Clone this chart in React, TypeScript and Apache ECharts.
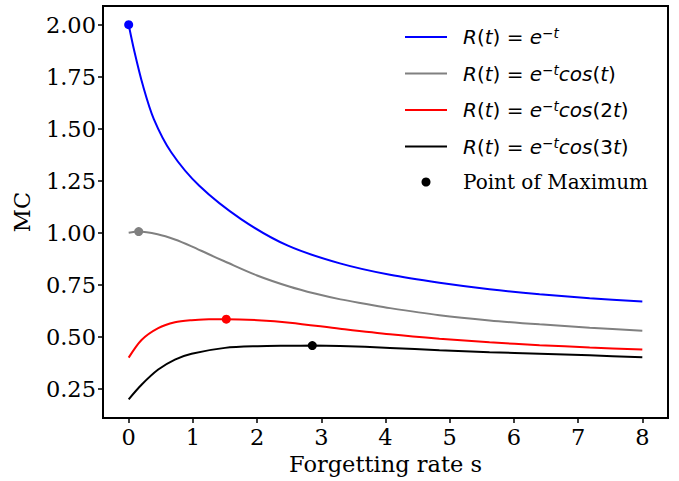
import React, { useEffect, useRef } from "react";
import * as echarts from "echarts";

// Forgetting rate s (x) and MC (y)
const sExp = [0, 0.09, 0.22, 0.39, 0.665, 1.1, 1.75, 2.48, 3.29, 4.07, 4.84, 5.62, 6.4, 7.18, 8];
const mcExp = [2.0, 1.87, 1.71, 1.548, 1.386, 1.226, 1.066, 0.938, 0.853, 0.798, 0.76, 0.729, 0.705, 0.686, 0.67];

const sCos1 = [0, 0.156, 0.45, 0.72, 0.98, 1.24, 1.5, 2.0, 2.5, 2.9, 3.3, 3.7, 4.07, 4.84, 5.62, 6.4, 7.18, 8];
const mcCos1 = [1.0, 1.006, 0.993, 0.968, 0.935, 0.898, 0.862, 0.795, 0.742, 0.708, 0.68, 0.658, 0.638, 0.604, 0.579, 0.56, 0.544, 0.529];

const sCos2 = [0, 0.2, 0.46, 0.72, 0.98, 1.25, 1.52, 2.01, 2.51, 3.29, 4.07, 4.84, 5.62, 6.4, 7.18, 8];
const mcCos2 = [0.4, 0.485, 0.542, 0.57, 0.58, 0.584, 0.585, 0.58, 0.568, 0.539, 0.512, 0.491, 0.474, 0.46, 0.449, 0.439];

const sCos3 = [0, 0.2, 0.46, 0.72, 0.98, 1.5, 2.01, 2.5, 2.86, 3.29, 4.07, 4.84, 5.62, 6.4, 7.18, 8];
const mcCos3 = [0.2, 0.27, 0.343, 0.391, 0.419, 0.447, 0.455, 0.457, 0.458, 0.456, 0.447, 0.436, 0.426, 0.419, 0.411, 0.402];

// Points of maximum
const maxS = [0, 0.156, 1.52, 2.86];
const maxMC = [2.0, 1.006, 0.585, 0.458];
const maxColors = ["#0000ff", "#808080", "#ff0000", "#000000"];

const seriesNames = ["exp", "cos1", "cos2", "cos3"];
const seriesColors = ["#0000ff", "#808080", "#ff0000", "#000000"];
const legendLabels = [
  "{i|R}{u|(}{i|t}{u|) = }{i|e}{su|−}{si|t}",
  "{i|R}{u|(}{i|t}{u|) = }{i|e}{su|−}{si|t}{i|cos}{u|(}{i|t}{u|)}",
  "{i|R}{u|(}{i|t}{u|) = }{i|e}{su|−}{si|t}{i|cos}{u|(2}{i|t}{u|)}",
  "{i|R}{u|(}{i|t}{u|) = }{i|e}{su|−}{si|t}{i|cos}{u|(3}{i|t}{u|)}",
];
const maxName = "Point of Maximum";

const xTicks = [0, 1, 2, 3, 4, 5, 6, 7, 8];
const yTicks = [0.25, 0.5, 0.75, 1.0, 1.25, 1.5, 1.75, 2.0];

const zip = (a: number[], b: number[]) => a.map((v, i) => [v, b[i]]);

export default function App() {
  const ref = useRef<HTMLDivElement>(null);
  useEffect(() => {
    if (!ref.current) return;
    const chart = echarts.init(ref.current, null, { renderer: "svg" });
    const serif = "DejaVu Serif";
    const sans = "DejaVu Sans";
    const lineData = [zip(sExp, mcExp), zip(sCos1, mcCos1), zip(sCos2, mcCos2), zip(sCos3, mcCos3)];
    const labelMap: Record<string, string> = {};
    seriesNames.forEach((n, i) => (labelMap[n] = legendLabels[i]));
    labelMap[maxName] = "{p|" + maxName + "}";
    const lineIcon = "path://M0,0 L42,0 L42,2 L0,2 Z";

    chart.setOption({
      animation: false,
      backgroundColor: "#ffffff",
      grid: {
        left: 103,
        right: 11,
        top: 6,
        bottom: 63,
        show: true,
        borderColor: "#000",
        borderWidth: 2,
      },
      xAxis: {
        type: "value",
        min: -0.4,
        max: 8.4,
        name: "Forgetting rate s",
        nameLocation: "middle",
        nameGap: 33,
        nameTextStyle: { fontFamily: serif, fontSize: 22.5, color: "#000" },
        axisLine: { show: true, onZero: false, lineStyle: { color: "#000", width: 2 } },
        axisTick: { show: true, length: 5, lineStyle: { color: "#000", width: 1.5 }, customValues: xTicks },
        axisLabel: {
          fontFamily: serif,
          fontSize: 22.5,
          color: "#000",
          margin: 7,
          customValues: xTicks,
          formatter: (v: number) => String(v),
        },
        splitLine: { show: false },
      },
      yAxis: {
        type: "value",
        min: 0.11,
        max: 2.09,
        name: "MC",
        nameLocation: "middle",
        nameGap: 70,
        nameTextStyle: { fontFamily: serif, fontSize: 22.5, color: "#000" },
        axisLine: { show: true, onZero: false, lineStyle: { color: "#000", width: 2 } },
        axisTick: { show: true, length: 5, lineStyle: { color: "#000", width: 1.5 }, customValues: yTicks },
        axisLabel: {
          fontFamily: serif,
          fontSize: 22.5,
          color: "#000",
          margin: 7,
          customValues: yTicks,
          formatter: (v: number) => v.toFixed(2),
        },
        splitLine: { show: false },
      },
      legend: {
        orient: "vertical",
        left: 405,
        top: 26,
        padding: 0,
        itemWidth: 42,
        itemHeight: 9,
        itemGap: 15.5,
        data: [
          ...seriesNames.map((n, i) => ({ name: n, icon: lineIcon, itemStyle: { color: seriesColors[i] } })),
          { name: maxName, icon: "circle", itemStyle: { color: "#000", opacity: 1 } },
        ],
        formatter: (name: string) => labelMap[name],
        textStyle: {
          padding: [0, 0, 0, 11],
          rich: {
            i: { fontFamily: sans, fontStyle: "italic", fontSize: 20, lineHeight: 22, color: "#000" },
            u: { fontFamily: sans, fontSize: 20, lineHeight: 22, color: "#000" },
            su: { fontFamily: sans, fontSize: 13.5, lineHeight: 13, verticalAlign: "top", color: "#000" },
            si: { fontFamily: sans, fontStyle: "italic", fontSize: 13.5, lineHeight: 13, verticalAlign: "top", color: "#000" },
            p: { fontFamily: serif, fontSize: 20, lineHeight: 22, color: "#000" },
          },
        },
      },
      series: [
        ...seriesNames.map((n, i) => ({
          name: n,
          type: "line",
          data: lineData[i],
          symbol: "none",
          smooth: 0.3,
          color: seriesColors[i],
          lineStyle: { color: seriesColors[i], width: 2 },
          z: 2,
        })),
        {
          name: maxName,
          type: "scatter",
          symbol: "circle",
          symbolSize: 9,
          color: "#000",
          itemStyle: { opacity: 1 },
          data: maxS.map((s, i) => ({ value: [s, maxMC[i]], itemStyle: { color: maxColors[i], opacity: 1 } })),
          z: 5,
        },
      ],
    });
    return () => chart.dispose();
  }, []);
  return <div ref={ref} style={{ position: "fixed", left: 0, top: 0, width: 679, height: 481 }} />;
}
